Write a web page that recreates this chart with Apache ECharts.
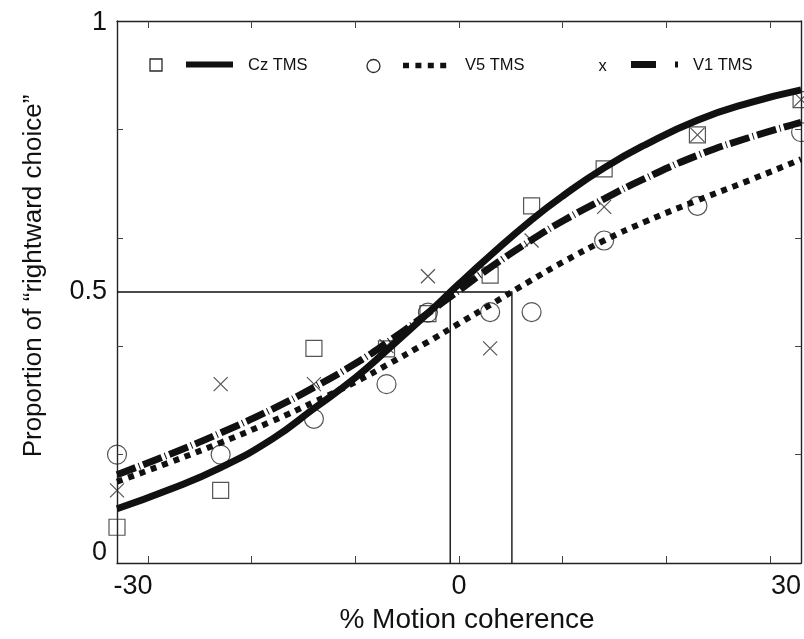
<!DOCTYPE html>
<html>
<head>
<meta charset="utf-8">
<title>Proportion of rightward choice vs motion coherence</title>
<script src="https://cdn.jsdelivr.net/npm/echarts@6/dist/echarts.min.js"></script>
<style>
  html, body { margin: 0; padding: 0; background: #fff; }
  #chart { width: 804px; height: 639px; }
</style>
</head>
<body>
<div id="chart"></div>
<script>
// Motion coherence levels (%) at which choices were measured
const coherence = [-33, -23, -14, -7, -3, 3, 7, 14, 23, 33];

// Observed proportion of "rightward choice" per condition
const czObserved = [0.066, 0.134, 0.396, 0.395, 0.46, 0.531, 0.659, 0.727, 0.79, 0.855];
const v5Observed = [0.2, 0.2, 0.266, 0.33, 0.462, 0.463, 0.463, 0.595, 0.659, 0.795];
const v1Observed = [0.134, 0.33, 0.33, 0.40, 0.529, 0.396, 0.595, 0.657, 0.79, 0.855];

// Fitted psychometric curves, sampled along coherence
const curveX = [-33, -28, -23, -18, -14, -10, -7, -3, 0, 3, 7, 10, 14, 18, 23, 28, 33];
const czFit = [0.10, 0.135, 0.176, 0.229, 0.285, 0.342, 0.392, 0.461, 0.515, 0.567, 0.633, 0.677, 0.729, 0.772, 0.817, 0.849, 0.873];
const v5Fit = [0.15, 0.185, 0.222, 0.262, 0.297, 0.334, 0.365, 0.408, 0.442, 0.476, 0.522, 0.555, 0.595, 0.63, 0.669, 0.706, 0.745];
const v1Fit = [0.163, 0.2, 0.24, 0.284, 0.324, 0.368, 0.406, 0.461, 0.503, 0.545, 0.596, 0.631, 0.672, 0.71, 0.752, 0.785, 0.813];

// Points of subjective equality (coherence at 50% rightward choice)
const criterion = 0.5;
const pseCz = -0.85;
const pseV5 = 5.1;

// Axis range and ticks
const xMin = -33, xMax = 33;
const xTicks = [-30, -20, -10, 0, 10, 20, 30];
const xTickLabels = [-30, 0, 30];
const yTicks = [0.2, 0.4, 0.6, 0.8];
const yTickLabels = [0, 0.5, 1];

const legendItems = ['Cz TMS', 'V5 TMS', 'V1 TMS'];

const FONT = "'Liberation Sans', Arial, Helvetica, sans-serif";
const INK = '#111';
const MARK = '#2a2a2a';

const pairs = (xs, ys) => xs.map((x, i) => [x, ys[i]]);

const chart = echarts.init(document.getElementById('chart'), null, { renderer: 'canvas' });

const tickStyle = { show: true, inside: true, length: 7, lineStyle: { color: '#444', width: 1 } };
const axisLineStyle = { show: true, onZero: false, lineStyle: { color: '#222', width: 1.4 } };

const markerStyle = { color: 'rgba(0,0,0,0)', borderColor: MARK, borderWidth: 1.2 };

const option = {
  animation: false,
  backgroundColor: '#fff',
  grid: { left: 117, right: 2, top: 21, bottom: 72, containLabel: false },
  xAxis: [
    {
      type: 'value', position: 'bottom', min: xMin, max: xMax,
      axisLine: axisLineStyle,
      axisTick: Object.assign({ customValues: xTicks }, tickStyle),
      splitLine: { show: false },
      axisLabel: {
        customValues: xTickLabels,
        margin: 10,
        color: INK,
        fontFamily: FONT,
        fontSize: 27,
        formatter: v => v < 0 ? '{l|' + v + '}' : (v > 0 ? '{r|' + v + '}' : String(v)),
        rich: {
          l: { fontFamily: FONT, fontSize: 27, color: INK, padding: [0, 30, 0, 0] },
          r: { fontFamily: FONT, fontSize: 27, color: INK, padding: [0, 0, 0, 32] }
        }
      },
      name: '% Motion coherence',
      nameLocation: 'middle',
      nameGap: 43,
      nameTextStyle: { fontFamily: FONT, fontSize: 28, color: INK, padding: [0, 0, 0, 16] }
    },
    {
      type: 'value', position: 'top', min: xMin, max: xMax,
      axisLine: axisLineStyle,
      axisTick: Object.assign({ customValues: xTicks }, tickStyle),
      splitLine: { show: false },
      axisLabel: { show: false }
    }
  ],
  yAxis: [
    {
      type: 'value', position: 'left', min: 0, max: 1,
      axisLine: axisLineStyle,
      axisTick: Object.assign({ customValues: yTicks }, tickStyle, { length: 6 }),
      splitLine: { show: false },
      axisLabel: {
        customValues: yTickLabels,
        margin: 10,
        color: INK,
        fontFamily: FONT,
        fontSize: 27,
        formatter: v => v === 0 ? '{b|0}' : (v === 1 ? '{t|1}' : String(v)),
        rich: {
          b: { fontFamily: FONT, fontSize: 27, color: INK, padding: [0, 0, 20, 0] },
          t: { fontFamily: FONT, fontSize: 27, color: INK, padding: [4, 0, 0, 0] }
        }
      },
      name: 'Proportion of \u201crightward choice\u201d',
      nameLocation: 'middle',
      nameGap: 70,
      nameTextStyle: { fontFamily: FONT, fontSize: 26, color: INK, padding: [0, 0, 0, 32] }
    },
    {
      type: 'value', position: 'right', min: 0, max: 1,
      axisLine: axisLineStyle,
      axisTick: Object.assign({ customValues: yTicks }, tickStyle, { length: 6 }),
      splitLine: { show: false },
      axisLabel: { show: false }
    }
  ],
  series: [
    // 50% criterion and the PSE drop lines
    {
      type: 'line', name: 'criterion', z: 1, silent: true, symbol: 'none',
      data: [[xMin, criterion], [pseV5, criterion], [pseV5, 0]],
      lineStyle: { color: INK, width: 1.4, join: 'round' }
    },
    {
      type: 'line', name: 'pse-cz', z: 1, silent: true, symbol: 'none',
      data: [[pseCz, criterion], [pseCz, 0]],
      lineStyle: { color: INK, width: 1.4 }
    },
    // Observed proportions
    {
      type: 'scatter', name: legendItems[0], z: 2, clip: false,
      symbol: 'rect', symbolSize: 16,
      data: pairs(coherence, czObserved),
      itemStyle: markerStyle
    },
    {
      type: 'scatter', name: legendItems[1], z: 2, clip: false,
      symbol: 'circle', symbolSize: 19,
      data: pairs(coherence, v5Observed),
      itemStyle: markerStyle
    },
    {
      type: 'scatter', name: legendItems[2], z: 2, clip: false,
      symbol: 'path://M0,0L10,10M10,0L0,10', symbolSize: 14,
      data: pairs(coherence, v1Observed),
      itemStyle: { color: 'rgba(0,0,0,0)', borderColor: MARK, borderWidth: 1.2 }
    },
    // Fitted curves
    {
      type: 'line', name: legendItems[1] + ' fit', z: 3, smooth: 0.5, symbol: 'none',
      data: pairs(curveX, v5Fit),
      lineStyle: { color: INK, width: 6, type: [6, 6], cap: 'butt' }
    },
    {
      type: 'line', name: legendItems[2] + ' fit', z: 4, smooth: 0.5, symbol: 'none',
      data: pairs(curveX, v1Fit),
      lineStyle: { color: INK, width: 7, type: [20, 3.5, 1, 3.5], cap: 'butt' }
    },
    {
      type: 'line', name: legendItems[0] + ' fit', z: 5, smooth: 0.5, symbol: 'none',
      data: pairs(curveX, czFit),
      lineStyle: { color: INK, width: 7 }
    }
  ],
  graphic: [
    // Legend: Cz TMS
    { type: 'rect', shape: { x: 150, y: 59, width: 12, height: 12 },
      style: { fill: 'none', stroke: MARK, lineWidth: 1.3 } },
    { type: 'line', shape: { x1: 186, y1: 64.5, x2: 233, y2: 64.5 },
      style: { stroke: INK, lineWidth: 6 } },
    { type: 'text', x: 248, y: 65.5,
      style: { text: legendItems[0], font: '16.5px ' + FONT, fill: INK, verticalAlign: 'middle' } },
    // Legend: V5 TMS
    { type: 'circle', shape: { cx: 373.5, cy: 66, r: 6.5 },
      style: { fill: 'none', stroke: MARK, lineWidth: 1.3 } },
    { type: 'line', shape: { x1: 403, y1: 65.5, x2: 447, y2: 65.5 },
      style: { stroke: INK, lineWidth: 5.5, lineDash: [6, 6.4] } },
    { type: 'text', x: 465, y: 65.5,
      style: { text: legendItems[1], font: '16.5px ' + FONT, fill: INK, verticalAlign: 'middle' } },
    // Legend: V1 TMS
    { type: 'text', x: 602.5, y: 66,
      style: { text: 'x', font: '16.5px ' + FONT, fill: INK, align: 'center', verticalAlign: 'middle' } },
    { type: 'line', shape: { x1: 631, y1: 64.5, x2: 656, y2: 64.5 },
      style: { stroke: INK, lineWidth: 7 } },
    { type: 'rect', shape: { x: 675, y: 61.5, width: 3, height: 6 },
      style: { fill: INK } },
    { type: 'text', x: 693, y: 65.5,
      style: { text: legendItems[2], font: '16.5px ' + FONT, fill: INK, verticalAlign: 'middle' } }
  ]
};

chart.setOption(option);
</script>
</body>
</html>
